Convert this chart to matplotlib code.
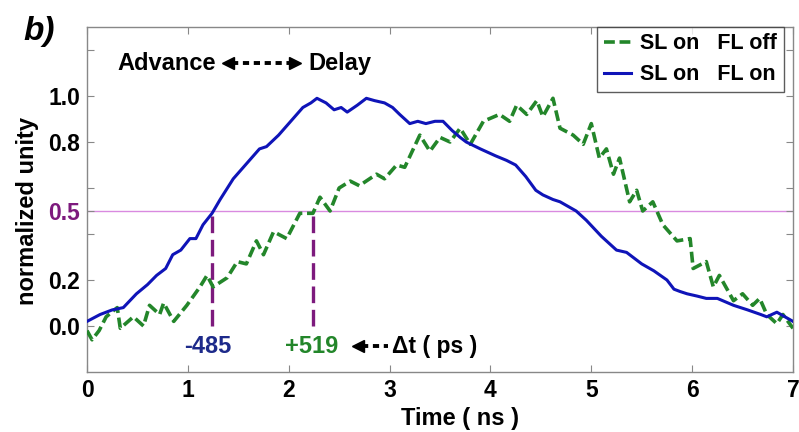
import matplotlib
matplotlib.use("Agg")
import matplotlib.pyplot as plt

plt.rcParams["font.family"] = ["Liberation Sans", "DejaVu Sans"]
plt.rcParams["font.weight"] = "bold"
plt.rcParams["axes.labelweight"] = "bold"

# --- datos ---
t_on = [0.0, 0.13, 0.25, 0.36, 0.49, 0.6, 0.69, 0.78, 0.85, 0.93, 1.02, 1.08,
        1.15, 1.24, 1.32, 1.45, 1.55, 1.65, 1.71, 1.78, 1.9, 2.0, 2.14, 2.22,
        2.28, 2.37, 2.45, 2.52, 2.58, 2.68, 2.77, 2.85, 2.95, 3.03, 3.1, 3.2,
        3.28, 3.36, 3.45, 3.53, 3.62, 3.7, 3.76, 3.9, 4.05, 4.16, 4.25, 4.35,
        4.45, 4.52, 4.62, 4.69, 4.85, 4.95, 5.1, 5.2, 5.25, 5.35, 5.5, 5.62,
        5.75, 5.82, 5.88, 5.95, 6.05, 6.14, 6.25, 6.41, 6.55, 6.68, 6.74, 6.84,
        6.92, 7.0]
amp_on = [0.02, 0.05, 0.07, 0.08, 0.14, 0.18, 0.22, 0.25, 0.31, 0.33, 0.38, 0.38,
          0.44, 0.49, 0.55, 0.64, 0.69, 0.74, 0.77, 0.78, 0.83, 0.88, 0.95, 0.97,
          0.99, 0.97, 0.94, 0.95, 0.93, 0.96, 0.99, 0.98, 0.97, 0.95, 0.92, 0.88,
          0.89, 0.88, 0.89, 0.89, 0.85, 0.82, 0.80, 0.77, 0.74, 0.72, 0.70, 0.65,
          0.59, 0.57, 0.55, 0.54, 0.50, 0.46, 0.39, 0.35, 0.33, 0.32, 0.27, 0.24,
          0.20, 0.16, 0.15, 0.14, 0.13, 0.12, 0.12, 0.09, 0.07, 0.05, 0.04, 0.06,
          0.04, 0.02]

t_off = [0.0, 0.05, 0.12, 0.19, 0.3, 0.33, 0.46, 0.56, 0.62, 0.72, 0.76, 0.86,
         0.99, 1.12, 1.19, 1.25, 1.39, 1.49, 1.58, 1.68, 1.75, 1.85, 1.98, 2.11,
         2.24, 2.31, 2.41, 2.5, 2.61, 2.7, 2.87, 2.95, 3.07, 3.15, 3.3, 3.4, 3.5,
         3.6, 3.7, 3.8, 3.93, 4.09, 4.19, 4.26, 4.36, 4.46, 4.52, 4.62, 4.69,
         4.82, 4.92, 5.0, 5.08, 5.15, 5.22, 5.28, 5.38, 5.45, 5.51, 5.61, 5.71,
         5.85, 5.98, 6.01, 6.14, 6.21, 6.27, 6.41, 6.5, 6.6, 6.67, 6.74, 6.84,
         6.9, 7.0]
amp_off = [-0.02, -0.06, -0.02, 0.04, 0.08, -0.01, 0.04, 0.0, 0.09, 0.05, 0.10, 0.02,
           0.09, 0.17, 0.22, 0.17, 0.21, 0.28, 0.27, 0.37, 0.31, 0.41, 0.38, 0.49,
           0.49, 0.56, 0.50, 0.60, 0.63, 0.61, 0.66, 0.64, 0.70, 0.69, 0.83, 0.76, 0.82,
           0.80, 0.86, 0.79, 0.89, 0.92, 0.89, 0.96, 0.92, 0.98, 0.91, 0.99, 0.86,
           0.83, 0.79, 0.88, 0.73, 0.77, 0.66, 0.73, 0.54, 0.59, 0.50, 0.54, 0.44,
           0.37, 0.38, 0.25, 0.28, 0.17, 0.22, 0.11, 0.14, 0.09, 0.12, 0.05, 0.01,
           0.05, -0.01]

t_cruce = [1.24, 2.24]
amp_cruce = [0.48, 0.49]
etiquetas_dt = ["-485", "+519"]

yticks = [0.0, 0.2, 0.4, 0.5, 0.6, 0.8, 1.0, 1.2]
ytick_labels = ["0.0", "0.2", "", "0.5", "", "0.8", "1.0", ""]

# colores
COL_AZUL = "#0f14b8"
COL_VERDE = "#23862a"
COL_MORADO = "#7d1a7d"
COL_LINEA_MEDIA = "#d98ae0"
COL_EJE = "#888888"
FS = 17

fig = plt.figure(figsize=(7.99, 4.32), dpi=100)
ax = fig.add_axes([87 / 799, 1 - 372 / 432, 706 / 799, 345 / 432])

ax.axhline(0.5, color=COL_LINEA_MEDIA, lw=1.0, zorder=1)
ax.plot(t_off, amp_off, color=COL_VERDE, lw=2.6, linestyle=(0, (3, 1.3)),
        label="SL on   FL off", zorder=3)
ax.plot(t_on, amp_on, color=COL_AZUL, lw=2.2, label="SL on   FL on", zorder=4)

for tc, ac in zip(t_cruce, amp_cruce):
    ax.plot([tc, tc], [0.0, ac], color=COL_MORADO, lw=2.4,
            linestyle=(0, (5, 2)), zorder=2)

# etiquetas de retardo
y_dt = -0.087
ax.text(t_cruce[0] - 0.04, y_dt, etiquetas_dt[0], color="#1d2a8a",
        fontsize=FS, ha="center", va="center")
ax.text(t_cruce[1] - 0.01, y_dt, etiquetas_dt[1], color=COL_VERDE,
        fontsize=FS, ha="center", va="center")
ax.plot([2.73, 2.98], [y_dt, y_dt], color="black", lw=2.8,
        linestyle=(0, (1.6, 1.2)))
ax.plot([2.69], [y_dt], marker="<", color="black", markersize=8)
ax.text(3.02, y_dt, "Δt ( ps )", fontsize=16.5, ha="left", va="center")

# Advance <---> Delay
y_ad = 1.143
ax.text(0.30, y_ad, "Advance", fontsize=FS, ha="left", va="center")
ax.plot([1.44, 2.02], [y_ad, y_ad], color="black", lw=2.8,
        linestyle=(0, (1.6, 1.2)))
ax.plot([1.40], [y_ad], marker="<", color="black", markersize=8)
ax.plot([2.06], [y_ad], marker=">", color="black", markersize=8)
ax.text(2.19, y_ad, "Delay", fontsize=FS, ha="left", va="center")

ax.set_xlim(0, 7)
ax.set_ylim(-0.2, 1.3)
ax.set_xticks(range(8))
ax.set_yticks(yticks)
ax.set_yticklabels(ytick_labels)
ax.get_yticklabels()[3].set_color(COL_MORADO)
ax.tick_params(direction="in", top=True, right=True, length=5,
               color=COL_EJE, labelsize=16.5, pad=5)

for sp in ax.spines.values():
    sp.set_color(COL_EJE)
    sp.set_linewidth(1.0)

ax.set_xlabel("Time ( ns )", fontsize=FS)
ax.xaxis.set_label_coords(0.528, -0.1)
ax.set_ylabel("normalized unity", fontsize=FS)
ax.yaxis.set_label_coords(-0.068, 0.467)

leg = ax.legend(loc="upper right", fontsize=15.5, frameon=True, fancybox=False,
                edgecolor="#333333", handlelength=1.25, borderpad=0.3,
                labelspacing=0.45, handletextpad=0.45, borderaxespad=0.0,
                bbox_to_anchor=(0.987, 1.0))
leg.get_frame().set_linewidth(1.0)

fig.text(23 / 799, 1 - 16 / 432, "b)", fontsize=24, fontweight="bold",
         style="italic", va="top", ha="left")

fig.savefig("out.png", dpi=100)
